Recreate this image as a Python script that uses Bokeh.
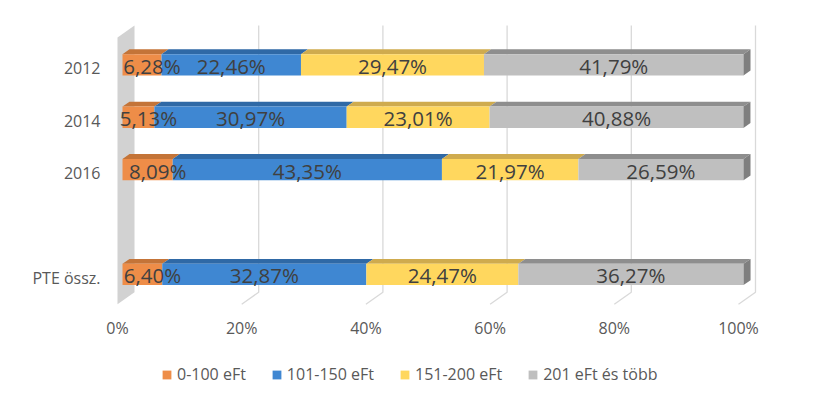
from bokeh.plotting import figure
from bokeh.models import Range1d, FixedTicker, Legend, LegendItem
from bokeh.core.properties import value
from bokeh.embed import file_html
from bokeh.resources import INLINE

# ---------------- data ----------------
axis_slots = ["2012", "2014", "2016", "", "PTE össz."]          # top to bottom
bar_categories = ["2012", "2014", "2016", "PTE össz."]
series_names = ["0-100 eFt", "101-150 eFt", "151-200 eFt", "201 eFt és több"]
band_0_100 = [6.28, 5.13, 8.09, 6.40]
band_101_150 = [22.46, 30.97, 43.35, 32.87]
band_151_200 = [29.47, 23.01, 21.97, 24.47]
band_201_plus = [41.79, 40.88, 26.59, 36.27]
x_ticks = [0, 20, 40, 60, 80, 100]
x_tick_labels = ["0%", "20%", "40%", "60%", "80%", "100%"]

# ---------------- style ----------------
front_colors = ["#EE8D48", "#3F87D2", "#FFD75E", "#BFBFBF"]
top_colors = ["#C47438", "#2F69A6", "#CFAB4E", "#8E8E8E"]
side_color = "#7F7F7F"
label_color = "#404040"
axis_text_color = "#595959"
grid_color = "#D9D9D9"
wall_color = "#D2D2D2"
FONT = "Open Sans"

PX_PER_PCT = 6.21      # pixels per percent
PX_PER_SLOT = 52.4     # pixels per category slot
DX = 17 / PX_PER_PCT   # full depth offset, data units
DY = 12 / PX_PER_SLOT
D0, D1 = 0.294, 0.706  # bar front / back depth
HH = 21.3 / PX_PER_SLOT / 2
FLOOR = -0.5
TOP_FRONT = 4.59

n_slots = len(axis_slots)
slot_idx = {name: n_slots - 1 - i for i, name in enumerate(axis_slots)}

W, H = 804, 388
frame_l, frame_r, frame_t, frame_b = 102, 804, 0, 388
x0 = (frame_l - 117) / PX_PER_PCT
x1 = x0 + (frame_r - frame_l) / PX_PER_PCT
y1 = (277.5 - frame_t) / PX_PER_SLOT
y0 = y1 - (frame_b - frame_t) / PX_PER_SLOT

p = figure(width=W, height=H, output_backend="svg", toolbar_location=None,
           x_range=Range1d(x0, x1), y_range=Range1d(y0, y1),
           x_axis_location=None,
           min_border_left=frame_l, min_border_right=W - frame_r,
           min_border_top=frame_t, min_border_bottom=H - frame_b)
p.outline_line_color = None
p.grid.visible = False
p.background_fill_color = "white"
p.border_fill_color = "white"

# left wall
p.patch([0, DX, DX, 0], [FLOOR, FLOOR + DY, TOP_FRONT + DY, TOP_FRONT],
        fill_color=wall_color, line_color=None)

# gridlines (back wall + floor)
for t in x_ticks[1:]:
    p.line([t, t + DX, t + DX], [FLOOR, FLOOR + DY, TOP_FRONT + DY],
           line_color=grid_color, line_width=1.3)

# x tick labels along the front edge of the floor
p.text(x=x_ticks, y=[FLOOR] * len(x_ticks), text=x_tick_labels,
       text_align="center", text_baseline="middle", y_offset=24,
       text_font=value(FONT), text_font_size="16px", text_color=axis_text_color)

# bars
series = [band_0_100, band_101_150, band_151_200, band_201_plus]
renderers = []
labels = []
cum = [0.0] * len(bar_categories)
for s, vals in enumerate(series):
    lefts, rights, tops, bottoms = [], [], [], []
    txs, tys, txt = [], [], []
    pxs, pys = [], []
    for i, cat in enumerate(bar_categories):
        idx = slot_idx[cat]
        L = cum[i]
        R = L + vals[i]
        cy = idx + DY * D0
        lefts.append(L + DX * D0)
        rights.append(R + DX * D0)
        tops.append(cy + HH)
        bottoms.append(cy - HH)
        pxs.append([L + DX * D0, R + DX * D0, R + DX * D1, L + DX * D1])
        pys.append([cy + HH, cy + HH, idx + DY * D1 + HH, idx + DY * D1 + HH])
        txs.append((L + R) / 2 + DX * D0)
        tys.append(cy)
        txt.append(f"{vals[i]:.2f}".replace(".", ",") + "%")
        cum[i] = R
    p.patches(pxs, pys, fill_color=top_colors[s], line_color=None)
    r = p.quad(left=lefts, right=rights, top=tops, bottom=bottoms,
               fill_color=front_colors[s], line_color=None)
    renderers.append(r)
    labels.append((txs, tys, txt, 10 if s == 0 else 0))

# side faces at the right end
sxs, sys_ = [], []
for i, cat in enumerate(bar_categories):
    idx = slot_idx[cat]
    R = cum[i]
    sxs.append([R + DX * D0, R + DX * D0, R + DX * D1, R + DX * D1])
    sys_.append([idx + DY * D0 - HH, idx + DY * D0 + HH, idx + DY * D1 + HH, idx + DY * D1 - HH])
p.patches(sxs, sys_, fill_color=side_color, line_color=None)

# data labels on top of all bars
for txs, tys, txt, xo in labels:
    p.text(x=txs, y=tys, text=txt, text_align="center", text_baseline="middle",
           text_font=value(FONT), text_font_size="20.5px", text_color=label_color,
           x_offset=xo, y_offset=1)

# y axis
p.yaxis.ticker = FixedTicker(ticks=list(range(n_slots)))
p.yaxis.major_label_overrides = {slot_idx[n]: n for n in axis_slots}
ax = p.yaxis[0]
ax.axis_line_color = None
ax.major_tick_line_color = None
ax.minor_tick_line_color = None
ax.major_tick_out = 0
ax.major_tick_in = 0
ax.major_label_text_font = FONT
ax.major_label_text_font_size = "16px"
ax.major_label_text_color = axis_text_color
ax.major_label_standoff = 2

legend = Legend(items=[LegendItem(label=n, renderers=[r]) for n, r in zip(series_names, renderers)],
                orientation="horizontal", location=(59, 3),
                glyph_width=11, glyph_height=11, label_standoff=5, spacing=25,
                padding=0, margin=0, border_line_color=None, background_fill_alpha=0,
                label_text_font=FONT, label_text_font_size="16px",
                label_text_color=axis_text_color)
p.add_layout(legend, "center")

open("out.html", "w").write(file_html(p, INLINE))
